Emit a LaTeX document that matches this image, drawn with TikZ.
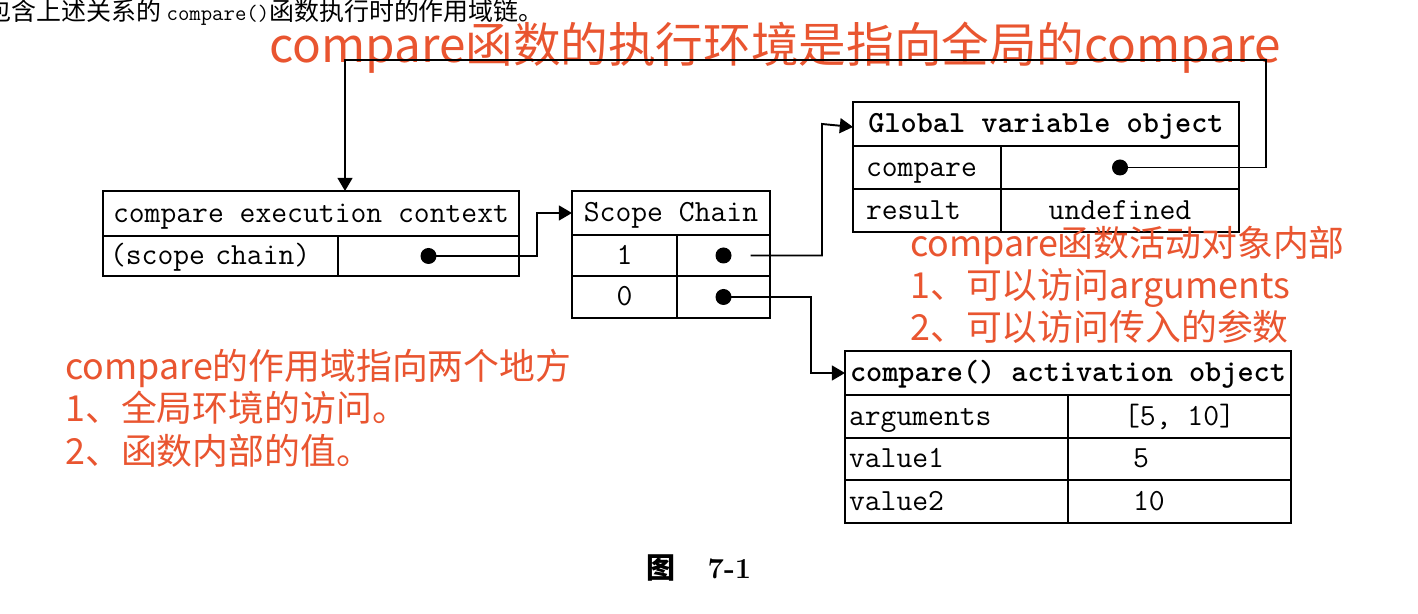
\documentclass[tikz,border=0pt]{standalone}
\usepackage{fontspec}
\newfontfamily\cjk{Noto Sans CJK SC}
\usetikzlibrary{arrows.meta, positioning, calc}
\definecolor{notered}{RGB}{233,85,48}

\tikzset{
  cell/.style={draw, line width=1.1pt, inner sep=0pt, outer sep=0pt, anchor=north west,
    text height=12pt, text depth=2pt, font=\ttfamily\fontsize{17.5}{18}\selectfont},
  lcell/.style={cell, align=left, text width=#1},
  hcell/.style={cell, font=\ttfamily\bfseries\fontsize{17.5}{18}\selectfont},
  dot/.style={circle, fill, inner sep=0pt, minimum size=0.32cm},
  link/.style={line width=1.1pt, -{Triangle[length=7.5pt,width=8.5pt]}},
  note/.style={text=notered, font=\cjk\fontsize{20.4}{24}\selectfont,
    align=left, anchor=north west, inner sep=0pt},
}

\begin{document}
\begin{tikzpicture}
  \useasboundingbox (0,0) rectangle (28.36,-12.28);
  \clip (0,0) rectangle (28.36,-12.28);

  % text above the figure
  \node[anchor=base west, inner sep=0pt, font=\cjk\fontsize{14.2}{15}\selectfont] (intro) at (-0.28,-0.42)
    {包含上述关系的 {\ttfamily\fontsize{12.6}{14}\selectfont compare()}函数执行时的作用域链。};

  % execution context
  \node[cell, minimum width=8.32cm, minimum height=0.9cm] (ech) at (2.06,-3.82) {compare execution context};
  \node[lcell=4.42cm, minimum width=4.70cm, minimum height=0.8cm] (ecl) at (ech.south west) {(scope chain)};
  \node[cell, minimum width=3.62cm, minimum height=0.8cm] (ecr) at (ecl.north east) {};

  % scope chain
  \node[cell, minimum width=3.96cm, minimum height=0.88cm] (sch) at (11.44,-3.82) {Scope Chain};
  \node[cell, minimum width=2.10cm, minimum height=0.82cm] (s1l) at (sch.south west) {1};
  \node[cell, minimum width=1.86cm, minimum height=0.82cm] (s1r) at (s1l.north east) {};
  \node[cell, minimum width=2.10cm, minimum height=0.84cm] (s0l) at (s1l.south west) {0};
  \node[cell, minimum width=1.86cm, minimum height=0.84cm] (s0r) at (s0l.north east) {};

  % global variable object
  \node[hcell, minimum width=7.72cm, minimum height=0.88cm] (gvh) at (17.06,-2.04) {Global variable object};
  \node[lcell=2.44cm, minimum width=2.96cm, minimum height=0.86cm] (gcl) at (gvh.south west) {compare};
  \node[cell, minimum width=4.76cm, minimum height=0.86cm] (gcr) at (gcl.north east) {};
  \node[lcell=2.44cm, minimum width=2.96cm, minimum height=0.86cm] (grl) at (gcl.south west) {result};
  \node[cell, minimum width=4.76cm, minimum height=0.86cm] (grr) at (grl.north east) {undefined};

  % activation object
  \node[hcell, minimum width=8.92cm, minimum height=0.88cm] (aoh) at (16.90,-7.02) {compare() activation object};
  \node[lcell=4.30cm, minimum width=4.46cm, minimum height=0.86cm] (aal) at (aoh.south west) {arguments};
  \node[cell, minimum width=4.46cm, minimum height=0.86cm] (aar) at (aal.north east) {[5, 10]};
  \node[lcell=4.30cm, minimum width=4.46cm, minimum height=0.84cm] (a1l) at (aal.south west) {value1};
  \node[lcell=1.86cm, minimum width=4.46cm, minimum height=0.84cm] (a1r) at (a1l.north east) {5};
  \node[lcell=4.30cm, minimum width=4.46cm, minimum height=0.86cm] (a2l) at (a1l.south west) {value2};
  \node[lcell=1.86cm, minimum width=4.46cm, minimum height=0.86cm] (a2r) at (a2l.north east) {10};

  % pointers
  \node[dot] (ecd) at (ecr.center) {};
  \node[dot] (sd1) at (s1r.center) {};
  \node[dot] (sd0) at (s0r.center) {};
  \node[dot] (gd) at (gcr.center) {};

  % red notes
  \node[text=notered, font=\cjk\fontsize{27.1}{28}\selectfont] (title) at (15.50,-0.96)
    {compare函数的执行环境是指向全局的compare};
  \node[note] (actnote) at (18.20,-4.52) {compare函数活动对象内部\\1、可以访问arguments\\2、可以访问传入的参数};
  \node[note] (scopenote) at (1.30,-6.98) {compare的作用域指向两个地方\\1、全局环境的访问。\\2、函数内部的值。};

  \coordinate (s1a) at ([xshift=0.54cm]sd1.center);
  \coordinate (gtop) at (25.32,-1.20);
  \coordinate (etop) at ([xshift=0.68cm]ech.north);
  \draw[link] (ecd.center) -| ([xshift=-0.7cm]sch.west) -- (sch.west);
  \draw[link] (s1a) -| ([xshift=-0.62cm]gvh.west) -- ([yshift=-0.06cm]gvh.west);
  \draw[link] (sd0.center) -| ([xshift=-0.68cm]aoh.west) -- (aoh.west);
  \draw[link] (gd.center) -| (gtop) -| (etop);

  % caption
  \node[font=\bfseries\fontsize{16.5}{18}\selectfont] (fig) at (13.98,-11.36) {{\cjk 图}\hspace{1.1em}7-1};
\end{tikzpicture}
\end{document}
